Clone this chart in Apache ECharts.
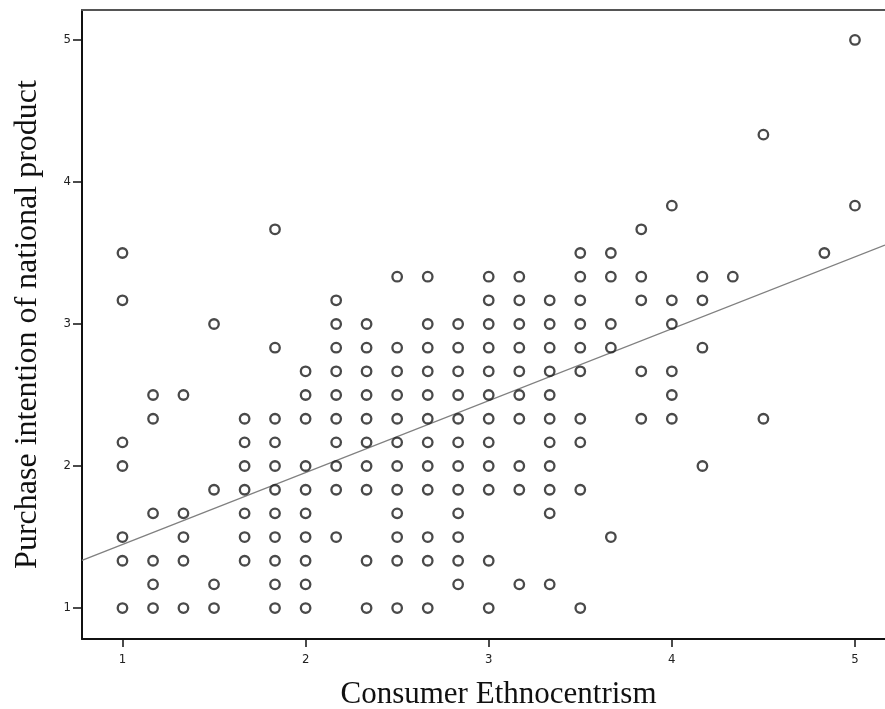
<!DOCTYPE html>
<html>
<head>
<meta charset="utf-8">
<title>Consumer Ethnocentrism vs Purchase intention</title>
<script src="https://cdn.jsdelivr.net/npm/echarts@6/dist/echarts.min.js"></script>
<style>
  html, body { margin: 0; padding: 0; background: #fff; }
  #chart { width: 885px; height: 709px; }
</style>
</head>
<body>
<div id="chart"></div>
<script>
// Consumer Ethnocentrism scores (x levels on a 1/6 grid)
const ceLevels = [1, 1.167, 1.333, 1.5, 1.667, 1.833, 2, 2.167, 2.333, 2.5, 2.667, 2.833,
                  3, 3.167, 3.333, 3.5, 3.667, 3.833, 4, 4.167, 4.333, 4.5, 4.833, 5];

// Purchase intention values observed at each ethnocentrism level (same order as ceLevels)
const piAtLevel = [
  [1, 1.333, 1.5, 2, 2.167, 3.167, 3.5],
  [1, 1.167, 1.333, 1.667, 2.333, 2.5],
  [1, 1.333, 1.5, 1.667, 2.5],
  [1, 1.167, 1.833, 3],
  [1.333, 1.5, 1.667, 1.833, 2, 2.167, 2.333],
  [1, 1.167, 1.333, 1.5, 1.667, 1.833, 2, 2.167, 2.333, 2.833, 3.667],
  [1, 1.167, 1.333, 1.5, 1.667, 1.833, 2, 2.333, 2.5, 2.667],
  [1.5, 1.833, 2, 2.167, 2.333, 2.5, 2.667, 2.833, 3, 3.167],
  [1, 1.333, 1.833, 2, 2.167, 2.333, 2.5, 2.667, 2.833, 3],
  [1, 1.333, 1.5, 1.667, 1.833, 2, 2.167, 2.333, 2.5, 2.667, 2.833, 3.333],
  [1, 1.333, 1.5, 1.833, 2, 2.167, 2.333, 2.5, 2.667, 2.833, 3, 3.333],
  [1.167, 1.333, 1.5, 1.667, 1.833, 2, 2.167, 2.333, 2.5, 2.667, 2.833, 3],
  [1, 1.333, 1.833, 2, 2.167, 2.333, 2.5, 2.667, 2.833, 3, 3.167, 3.333],
  [1.167, 1.833, 2, 2.333, 2.5, 2.667, 2.833, 3, 3.167, 3.333],
  [1.167, 1.667, 1.833, 2, 2.167, 2.333, 2.5, 2.667, 2.833, 3, 3.167],
  [1, 1.833, 2.167, 2.333, 2.667, 2.833, 3, 3.167, 3.333, 3.5],
  [1.5, 2.833, 3, 3.333, 3.5],
  [2.333, 2.667, 3.167, 3.333, 3.667],
  [2.333, 2.5, 2.667, 3, 3.167, 3.833],
  [2, 2.833, 3.167, 3.333],
  [3.333],
  [2.333, 4.333],
  [3.5],
  [3.833, 5]
];

// Fitted linear trend, given by its two end points across the plotted range
const fitX = [0.779, 5.164];
const fitY = [1.335, 3.556];

// Tick labels on both axes
const xTicks = [1, 2, 3, 4, 5];
const yTicks = [1, 2, 3, 4, 5];

const scatterData = [];
ceLevels.forEach((x, i) => {
  piAtLevel[i].forEach(y => scatterData.push([x, y]));
});
const fitData = fitX.map((x, i) => [x, fitY[i]]);

const tickFont = {
  fontFamily: 'Liberation Sans Narrow, DejaVu Sans Condensed, sans-serif',
  fontSize: 13,
  color: '#222'
};
const titleFamily = 'Liberation Serif, DejaVu Serif, serif';

const chart = echarts.init(document.getElementById('chart'), null, { renderer: 'canvas' });
chart.setOption({
  backgroundColor: '#fff',
  animation: false,
  grid: { left: 82, right: 0, top: 10, bottom: 70, containLabel: false, outerBoundsMode: 'none' },
  xAxis: [
    {
      type: 'value',
      min: 0.779,
      max: 5.164,
      position: 'bottom',
      name: 'Consumer Ethnocentrism',
      nameLocation: 'middle',
      nameGap: 40,
      nameTextStyle: { fontFamily: titleFamily, fontSize: 31, color: '#111', padding: [0, 0, 0, 30] },
      splitLine: { show: false },
      axisLine: { show: true, onZero: false, lineStyle: { color: '#111', width: 2 } },
      axisTick: { show: true, length: 8, customValues: xTicks, lineStyle: { color: '#111', width: 1.5 } },
      axisLabel: Object.assign({ customValues: xTicks, margin: 14 }, tickFont)
    },
    {
      type: 'value',
      min: 0.779,
      max: 5.164,
      position: 'top',
      splitLine: { show: false },
      axisLine: { show: true, onZero: false, lineStyle: { color: '#555', width: 2 } },
      axisTick: { show: false },
      axisLabel: { show: false }
    }
  ],
  yAxis: {
    type: 'value',
    min: 0.782,
    max: 5.211,
    name: 'Purchase intention of national product',
    nameLocation: 'middle',
    nameGap: 38,
    nameTextStyle: { fontFamily: titleFamily, fontSize: 32, color: '#111' },
    splitLine: { show: false },
    axisLine: { show: true, onZero: false, lineStyle: { color: '#111', width: 2 } },
    axisTick: { show: true, length: 9, customValues: yTicks, lineStyle: { color: '#111', width: 1.5 } },
    axisLabel: Object.assign({ customValues: yTicks, margin: 11 }, tickFont)
  },
  series: [
    {
      type: 'line',
      data: fitData,
      showSymbol: false,
      silent: true,
      lineStyle: { color: '#808080', width: 1.4 },
      z: 1
    },
    {
      type: 'scatter',
      data: scatterData,
      symbol: 'circle',
      symbolSize: 9.5,
      itemStyle: { color: 'rgba(255,255,255,0)', borderColor: '#1c1c1c', borderWidth: 2.3 },
      z: 2
    }
  ]
});
</script>
</body>
</html>
